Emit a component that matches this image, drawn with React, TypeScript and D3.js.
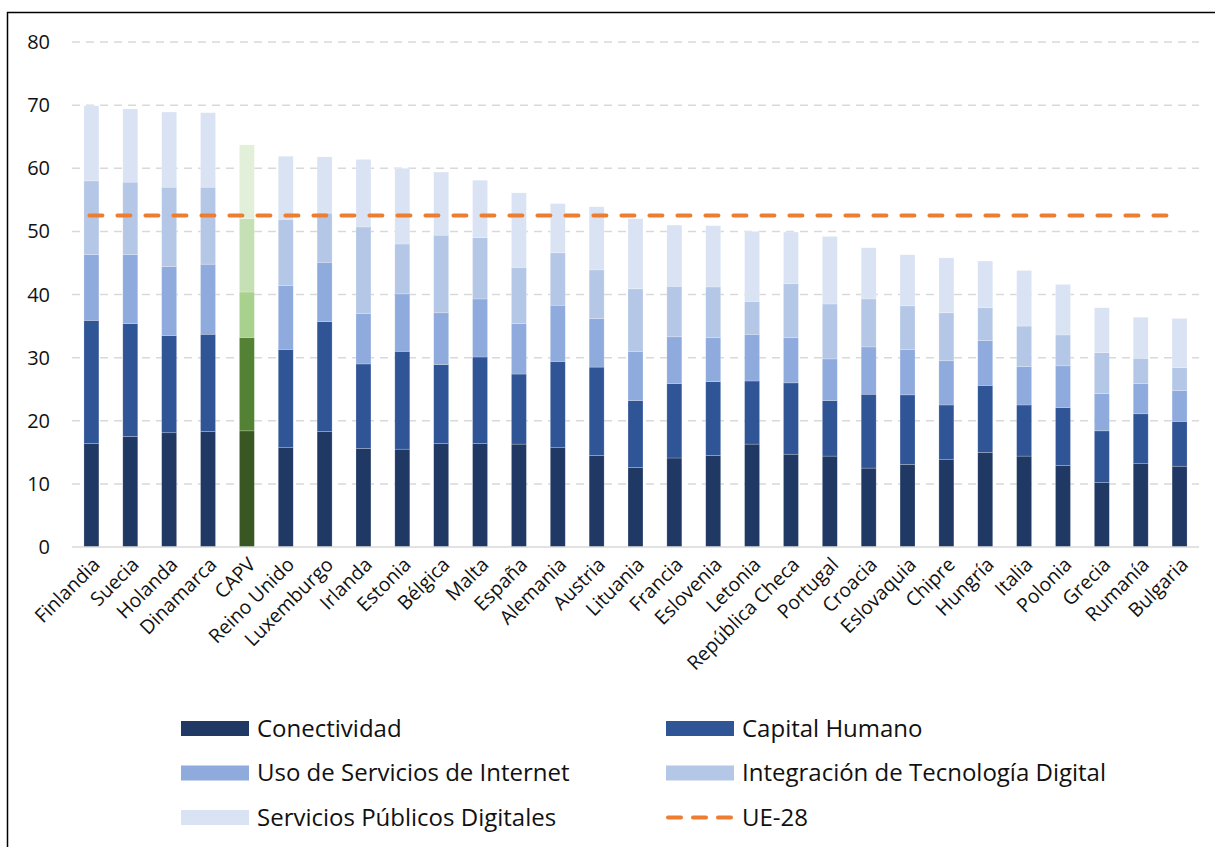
import React from "react";
import * as d3 from "d3";

const countries = [
  "Finlandia", "Suecia", "Holanda", "Dinamarca", "CAPV", "Reino Unido", "Luxemburgo",
  "Irlanda", "Estonia", "Bélgica", "Malta", "España", "Alemania", "Austria", "Lituania",
  "Francia", "Eslovenia", "Letonia", "República Checa", "Portugal", "Croacia", "Eslovaquia",
  "Chipre", "Hungría", "Italia", "Polonia", "Grecia", "Rumanía", "Bulgaria",
];

const conectividad = [16.4, 17.5, 18.1, 18.3, 18.4, 15.8, 18.3, 15.6, 15.5, 16.4, 16.4, 16.3, 15.8, 14.5, 12.6, 14.1, 14.5, 16.3, 14.7, 14.4, 12.5, 13.1, 13.9, 15.0, 14.4, 12.9, 10.2, 13.2, 12.8];
const capitalHumano = [19.5, 17.9, 15.4, 15.4, 14.8, 15.5, 17.4, 13.4, 15.5, 12.5, 13.7, 11.1, 13.6, 14.0, 10.6, 11.8, 11.7, 10.0, 11.3, 8.8, 11.7, 11.0, 8.6, 10.6, 8.1, 9.2, 8.2, 7.9, 7.1];
const usoInternet = [10.4, 10.9, 10.9, 11.1, 7.2, 10.1, 9.4, 8.0, 9.1, 8.2, 9.2, 8.0, 8.9, 7.7, 7.8, 7.4, 7.0, 7.4, 7.2, 6.6, 7.5, 7.2, 7.0, 7.1, 6.1, 6.6, 5.9, 4.8, 4.9];
const integracion = [11.7, 11.5, 12.6, 12.2, 11.6, 10.5, 7.8, 13.7, 7.9, 12.3, 9.7, 8.9, 8.3, 7.7, 9.9, 8.0, 8.0, 5.2, 8.5, 8.7, 7.6, 6.9, 7.6, 5.2, 6.4, 4.9, 6.5, 4.0, 3.6];
const serviciosPublicos = [11.9, 11.6, 11.9, 11.8, 11.7, 10.0, 8.9, 10.7, 12.0, 10.0, 9.1, 11.8, 7.8, 10.0, 11.1, 9.7, 9.7, 11.1, 8.2, 10.7, 8.1, 8.1, 8.7, 7.4, 8.8, 8.0, 7.1, 6.5, 7.8];
const ue28 = 52.5;

const yTicks = [0, 10, 20, 30, 40, 50, 60, 70, 80];

const seriesNames = [
  "Conectividad",
  "Capital Humano",
  "Uso de Servicios de Internet",
  "Integración de Tecnología Digital",
  "Servicios Públicos Digitales",
];
const blueColors = ["#203864", "#2F5597", "#8FAADC", "#B4C7E7", "#DAE3F3"];
const greenColors = ["#385723", "#548235", "#A9D18E", "#C5E0B4", "#E2F0D9"];
const highlight = "CAPV";

const FONT = "'Open Sans', 'Noto Sans', sans-serif";

export default function App() {
  const W = 1215;
  const H = 847;
  const plotLeft = 72;
  const plotRight = 1199;
  const y = d3.scaleLinear().domain([0, 80]).range([547, 42]);
  const x = d3
    .scaleBand<string>()
    .domain(countries)
    .range([plotLeft, plotRight])
    .paddingInner(0.615)
    .paddingOuter(0.3075);

  const rows = countries.map((c, i) => ({
    country: c,
    Conectividad: conectividad[i],
    "Capital Humano": capitalHumano[i],
    "Uso de Servicios de Internet": usoInternet[i],
    "Integración de Tecnología Digital": integracion[i],
    "Servicios Públicos Digitales": serviciosPublicos[i],
  }));
  const stacked = d3.stack<any>().keys(seriesNames)(rows);

  const bw = x.bandwidth();
  const firstC = (x(countries[0]) ?? 0) + bw / 2;
  const lastC = (x(countries[countries.length - 1]) ?? 0) + bw / 2;

  const legendItems = [
    { label: seriesNames[0], type: "rect", color: blueColors[0] },
    { label: seriesNames[1], type: "rect", color: blueColors[1] },
    { label: seriesNames[2], type: "rect", color: blueColors[2] },
    { label: seriesNames[3], type: "rect", color: blueColors[3] },
    { label: seriesNames[4], type: "rect", color: blueColors[4] },
    { label: "UE-28", type: "line", color: "#ED7D31" },
  ];

  return (
    <svg
      width={W}
      height={H}
      style={{ position: "absolute", left: 0, top: 0, background: "#fff" }}
      fontFamily={FONT}
    >
      <rect x={0} y={0} width={W} height={H} fill="#fff" />
      <rect x={7.5} y={12.5} width={W + 50} height={H + 50} fill="none" stroke="#000" strokeWidth={1.5} />

      {yTicks.map((t) =>
        t === 0 ? null : (
          <line
            key={"g" + t}
            x1={plotLeft}
            x2={plotRight}
            y1={y(t)}
            y2={y(t)}
            stroke="#D9D9D9"
            strokeWidth={1.5}
            strokeDasharray="8 6"
          />
        )
      )}
      {yTicks.map((t) => (
        <text
          key={"t" + t}
          x={50}
          y={y(t)}
          dy="0.35em"
          textAnchor="end"
          fontSize={20}
          fill="#111"
        >
          {t}
        </text>
      ))}

      {stacked.map((s, si) => (
        <g key={s.key}>
          {s.map((d, i) => {
            const c = countries[i];
            const col = c === highlight ? greenColors[si] : blueColors[si];
            return (
              <rect
                key={c}
                x={x(c)}
                y={y(d[1])}
                width={bw}
                height={y(d[0]) - y(d[1])}
                fill={col}
                stroke="#fff"
                strokeOpacity={0.35}
                strokeWidth={0.6}
              />
            );
          })}
        </g>
      ))}

      <line x1={plotLeft} x2={plotRight} y1={y(0)} y2={y(0)} stroke="#D9D9D9" strokeWidth={1.5} />

      <line
        x1={firstC - 2}
        x2={lastC - 8}
        y1={y(ue28)}
        y2={y(ue28)}
        stroke="#ED7D31"
        strokeWidth={4}
        strokeDasharray="13 15"
        strokeLinecap="round"
      />

      {countries.map((c) => {
        const cx = (x(c) ?? 0) + bw / 2 + 5;
        const cy = 561;
        return (
          <text
            key={"x" + c}
            transform={`translate(${cx},${cy}) rotate(-45)`}
            textAnchor="end"
            fontSize={19.5}
            fill="#111"
            dy="0.35em"
          >
            {c}
          </text>
        );
      })}

      {legendItems.map((it, i) => {
        const col = i % 2;
        const row = Math.floor(i / 2);
        const lx = col === 0 ? 181 : 666;
        const ly = 728.5 + row * 44.5;
        return (
          <g key={it.label}>
            {it.type === "rect" ? (
              <rect x={lx} y={ly - 7.5} width={68} height={15} fill={it.color} />
            ) : (
              <line
                x1={lx + 2}
                x2={lx + 66}
                y1={ly}
                y2={ly}
                stroke={it.color}
                strokeWidth={4}
                strokeDasharray="13 12"
                strokeLinecap="round"
              />
            )}
            <text x={lx + 76} y={ly} dy="0.35em" fontSize={24} fill="#111">
              {it.label}
            </text>
          </g>
        );
      })}
    </svg>
  );
}
